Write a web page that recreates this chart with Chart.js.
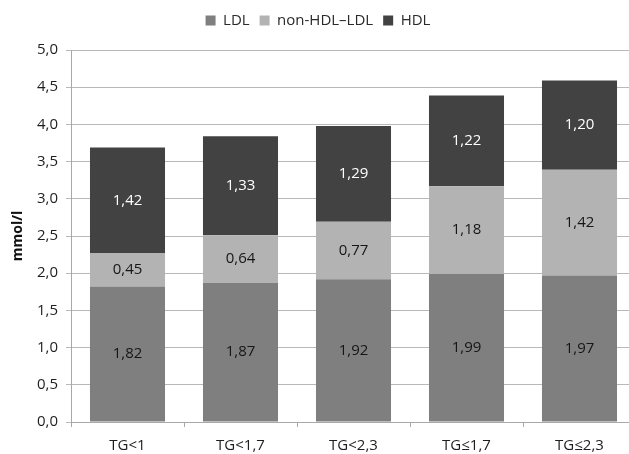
<!DOCTYPE html>
<html>
<head>
<meta charset="utf-8">
<script src="https://cdn.jsdelivr.net/npm/chart.js@4/dist/chart.umd.min.js"></script>
<style>
  html, body { margin: 0; padding: 0; background: #fff; overflow: hidden; }
  #wrap { width: 660px; height: 454px; }
</style>
</head>
<body>
<div id="wrap"><canvas id="c" width="660" height="454"></canvas></div>
<script>
// Lipid fractions per triglyceride group (mmol/l)
const categories = ['TG<1', 'TG<1,7', 'TG<2,3', 'TG≤1,7', 'TG≤2,3'];
const ldl = [1.82, 1.87, 1.92, 1.99, 1.97];
const nonHdlLdl = [0.45, 0.64, 0.77, 1.18, 1.42];
const hdl = [1.42, 1.33, 1.29, 1.22, 1.20];
const seriesNames = ['LDL', 'non-HDL\u2013LDL', 'HDL'];

const FONT = '"Open Sans", "Noto Sans", sans-serif';
const comma = (v, d) => v.toFixed(d).replace('.', ',');

// Extra space below the legend row before the plot starts
const legendGap = {
  id: 'legendGap',
  beforeLayout(chart) {
    const lg = chart.legend;
    if (lg && !lg._gapPatched) {
      const fit = lg.fit.bind(lg);
      lg.fit = function () { fit(); this.height += 12; };
      lg._gapPatched = true;
    }
  }
};

// Writes each segment's value in the middle of its bar piece
const segmentLabels = {
  id: 'segmentLabels',
  afterDatasetsDraw(chart) {
    const ctx = chart.ctx;
    ctx.save();
    ctx.font = '15px ' + FONT;
    ctx.textAlign = 'center';
    ctx.textBaseline = 'middle';
    chart.data.datasets.forEach((ds, i) => {
      const meta = chart.getDatasetMeta(i);
      meta.data.forEach((bar, j) => {
        const y = (bar.y + bar.base) / 2;
        ctx.fillStyle = ds.labelColor;
        ctx.fillText(comma(ds.data[j], 2), bar.x, y);
      });
    });
    ctx.restore();
  }
};

new Chart(document.getElementById('c'), {
  type: 'bar',
  data: {
    labels: categories,
    datasets: [
      { label: seriesNames[0], data: ldl, backgroundColor: '#7f7f7f', labelColor: '#161616' },
      { label: seriesNames[1], data: nonHdlLdl, backgroundColor: '#b3b3b3', labelColor: '#161616' },
      { label: seriesNames[2], data: hdl, backgroundColor: '#424242', labelColor: '#ffffff' }
    ]
  },
  options: {
    responsive: false,
    animation: false,
    layout: { padding: { top: 3, right: 24, left: 0, bottom: 0 } },
    datasets: { bar: { barPercentage: 1, categoryPercentage: 0.664 } },
    plugins: {
      tooltip: { enabled: false },
      legend: {
        position: 'top',
        labels: {
          font: { family: FONT, size: 15 },
          color: '#2a2a2a',
          boxWidth: 10,
          boxHeight: 10,
          padding: 10
        }
      }
    },
    scales: {
      x: {
        stacked: true,
        afterFit(s) { s.height = 32; },
        grid: { drawOnChartArea: false, offset: true, tickLength: 5, color: '#a8a8a8' },
        border: { color: '#a8a8a8' },
        ticks: { font: { family: FONT, size: 15 }, color: '#1e1e1e', padding: 10 }
      },
      y: {
        stacked: true,
        min: 0,
        max: 5,
        afterFit(s) { s.width = 71; },
        grid: { color: '#b8b8b8', tickLength: 5 },
        border: { color: '#a8a8a8' },
        ticks: {
          stepSize: 0.5,
          font: { family: FONT, size: 15 },
          color: '#1e1e1e',
          padding: 8,
          callback: v => comma(v, 1)
        },
        title: {
          display: true,
          text: 'mmol/l',
          font: { family: FONT, size: 14, weight: 'bold' },
          color: '#111',
          padding: { top: 10, bottom: 0 }
        }
      }
    }
  },
  plugins: [legendGap, segmentLabels]
});
</script>
</body>
</html>
